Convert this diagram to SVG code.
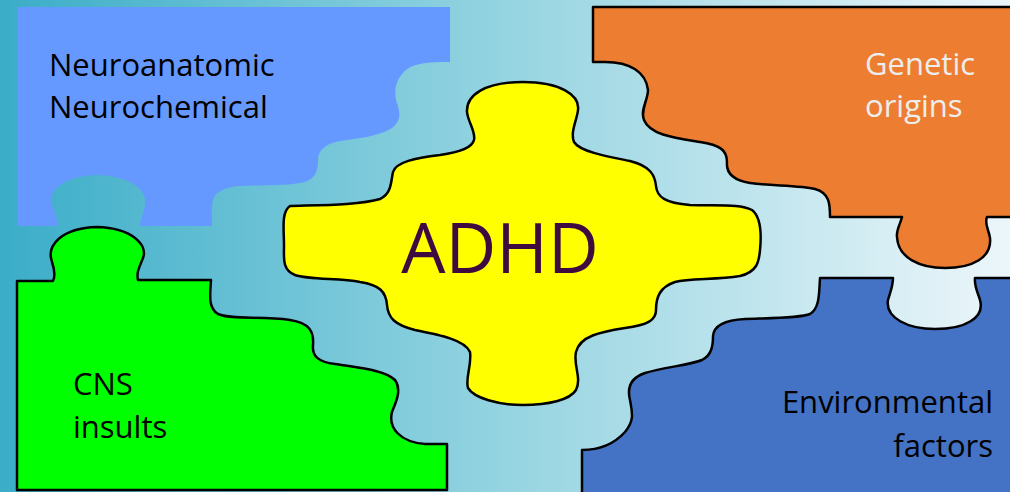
<svg xmlns="http://www.w3.org/2000/svg" width="1010" height="492" viewBox="0 0 1010 492">
<defs>
<linearGradient id="bg" x1="0" y1="0" x2="1" y2="0">
<stop offset="0" stop-color="#3BADC8"/>
<stop offset="0.5" stop-color="#95D4E1"/>
<stop offset="1" stop-color="#ECF6FA"/>
</linearGradient>
</defs>
<style>
.piece{stroke:#000;stroke-width:2.5;stroke-linejoin:round}
.lbl{font-family:"Open Sans","Liberation Sans",sans-serif;font-size:31px;fill:#000}
.light{fill:#EDEDED}
.big{font-family:"Open Sans","Liberation Sans",sans-serif;font-size:70px;fill:#3F0A3F;text-anchor:middle}
.end{text-anchor:end}
</style>
<rect x="0" y="0" width="1010" height="492" fill="url(#bg)"/>

<g id="neuro">
<path fill="#6699FF" d="M18,7 H450 V62 C435,62 412,62 404,72 C396,80 394,90 396,100 C400,112 402,120 392,128 C380,136 360,138 340,141 C325,144 318,150 318,160 C318,170 316,178 305,182 C290,186 260,185 240,186 C225,187 215,192 213,200 C211,210 212,220 212,226 H140 C140,220 144,212 145,205 C148,190 130,176 97,175 C64,176 48,190 52,205 C54,212 58,218 58,226 H18 Z"/>
<text class="lbl" x="49" y="76">Neuroanatomic</text>
<text class="lbl" x="49" y="118">Neurochemical</text>
</g>

<g id="genetic">
<path class="piece" fill="#ED7D31" d="M593,7 H1014 V217 H987 C984,224 989,230 990,238 C992,258 972,268 945,268 C920,268 898,258 897,237 C896,230 900,225 902,217 H830 C830,205 830,193 815,189 C800,185 770,186 750,183 C732,180 726,172 727,162 C727,150 720,145 700,142 C675,138 650,135 644,120 C640,110 648,100 648,90 C646,72 630,62 605,62 H593 Z"/>
<text class="lbl light" x="865" y="75">Genetic</text>
<text class="lbl light" x="865" y="117">origins</text>
</g>

<g id="cns">
<path class="piece" fill="#00FF00" d="M17,281 H53 C56,275 54,268 52,262 C46,245 62,228 97,227 C132,228 148,245 143,258 C140,266 136,272 138,280 H211 C210,295 208,308 218,314 C232,320 260,316 290,320 C310,323 314,332 313,345 C312,356 318,362 335,364 C360,368 385,370 395,380 C402,390 396,402 392,412 C388,428 400,442 425,444 H447 V490 H17 Z"/>
<text class="lbl" x="73" y="395">CNS</text>
<text class="lbl" x="73" y="438">insults</text>
</g>

<g id="environmental">
<path class="piece" fill="#4472C4" d="M582,496 V450 C600,450 615,443 625,432 C635,420 632,412 630,400 C627,388 630,378 645,373 C665,367 690,365 702,360 C712,355 713,345 713,336 C714,325 725,320 745,319 C775,318 800,318 810,314 C820,308 819,292 820,278 H893 C893,286 890,293 888,300 C885,318 908,329 935,329 C965,329 985,318 980,300 C978,293 974,286 975,278 H1014 V496 Z"/>
<text class="lbl end" x="993" y="413">Environmental</text>
<text class="lbl end" x="993" y="457">factors</text>
</g>

<g id="adhd">
<path class="piece" fill="#FFFF00" d="M290,206 C320,205 360,205 380,199 C392,194 391,180 393,172 C396,162 415,158 440,155 C460,152 472,148 474,140 C476,132 468,122 467,112 C466,95 485,82 523,82 C560,82 580,95 578,110 C577,120 570,132 574,142 C580,152 610,157 630,161 C650,166 655,175 656,186 C657,197 665,203 690,205 C720,206 740,204 752,210 C762,218 761,240 760,250 C759,262 757,272 740,276 C715,280 690,278 675,282 C660,287 656,297 656,310 C656,320 648,325 625,328 C600,332 580,336 576,352 C573,365 582,378 576,390 C570,400 548,405 523,405 C498,405 474,398 468,388 C465,378 472,365 470,352 C465,340 440,335 415,330 C395,325 388,318 387,305 C386,292 380,285 360,282 C340,278 310,280 295,275 C282,270 284,258 284,245 C284,230 281,212 290,206 Z"/>
<text class="big" x="500" y="273">ADHD</text>
</g>
</svg>
